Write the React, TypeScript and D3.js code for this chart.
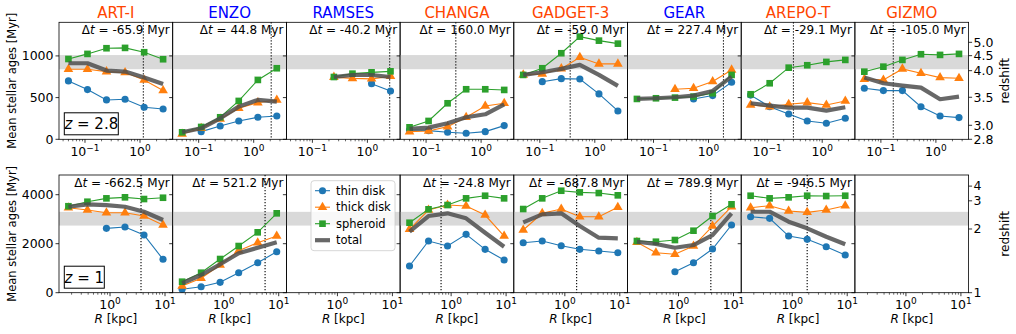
import React from 'react';
import * as d3 from 'd3';

const W = 1016;
const H = 334;

const codes = ['ART-I', 'ENZO', 'RAMSES', 'CHANGA', 'GADGET-3', 'GEAR', 'AREPO-T', 'GIZMO'];
const codeColors = ['#ff4500', '#0000ff', '#0000ff', '#ff4500', '#ff4500', '#0000ff', '#ff4500', '#ff4500'];

// radial bins [kpc]
const radiiZ28 = [0.05, 0.111, 0.246, 0.535, 1.19, 2.63];
const radiiZ1 = [0.175, 0.388, 0.86, 1.87, 4.15, 9.2];

// z = 2.8 row, mean stellar ages [Myr]
const thinZ28 = [
  [700, 596, 472, 480, 384, 364],
  [null, 92, 160, 220, 264, 280],
  [null, null, null, null, 667, 579],
  [112, 104, 84, 72, 92, 164],
  [null, 691, 727, 723, 544, 340],
  [null, null, null, 484, 524, 684],
  [530, 391, 304, 220, 192, 252],
  [612, 584, 584, 391, 280, 260],
];
const thickZ28 = [
  [840, 840, 811, 800, 712, 584],
  [64, 132, 244, 372, 440, 472],
  [null, null, 745, 730, 725, 755],
  [92, 100, 152, 264, 400, 432],
  [772, 784, 847, 984, 904, 904],
  [null, null, 600, 612, 692, 832],
  [412, 391, 420, 440, 412, 460],
  [720, 712, 844, 792, 740, 732],
];
const spheroidZ28 = [
  [963, 1024, 1092, 1096, 1044, 960],
  [84, 148, 264, 460, 712, 852],
  [null, null, 747, 787, 803, 815],
  [144, 220, 432, 600, 600, 592],
  [772, 852, 1032, 1231, 1183, 1147],
  [484, 492, 500, 512, 552, 772],
  [540, 672, 859, 888, 928, 952],
  [811, 871, 952, 1020, 1012, 1024],
];
const totalZ28 = [
  [912, 912, 824, 812, 740, 664],
  [84, 132, 252, 392, 472, 452],
  [null, null, 747, 771, 771, 747],
  [124, 140, 192, 264, 300, 420],
  [772, 804, 844, 892, 772, 640],
  [484, 492, 504, 524, 580, 752],
  [432, 404, 380, 380, 344, 384],
  [740, 672, 644, 620, 480, 512],
];
const dtZ28 = ['-65.9', '44.8', '-40.2', '160.0', '-59.0', '227.4', '-29.1', '-105.0'];
const rDotZ28 = [1.15, 2.08, 2.54, 0.347, 0.357, 1.87, 0.30, 0.168];

// z = 1 row
const thinZ1 = [
  [null, null, 2627, 2681, 2354, 1363],
  [139, 245, 424, 816, 1224, 1673],
  [],
  [1089, 2109, 1905, 2383, 1771, 1334],
  [2040, 2109, 1918, 1771, 1701, 1632],
  [null, null, 857, 1224, 1783, 2762],
  [3101, 3035, 2313, 2179, 1877, 1538],
  [],
];
const thickZ1 = [
  [3468, 3374, 3264, 3264, 3129, 2762],
  [273, 588, 1130, 1714, 2040, 2313],
  [],
  [2587, 3374, 3578, 3537, 3170, 2313],
  [2558, 3240, 3415, 3101, 3101, 3484],
  [2056, 1632, 1567, 1905, 2721, 3509],
  [3468, 3550, 3333, 3280, 3374, 3550],
  [],
];
const spheroidZ1 = [
  [3529, 3713, 3851, 3892, 3823, 3876],
  [449, 816, 1375, 1905, 2464, 3240],
  [],
  [2856, 3403, 3578, 3851, 3958, 3851],
  [3415, 3851, 4162, 4096, 4068, 3974],
  [2109, 2081, 2150, 2530, 3129, 3607],
  [3958, 3851, 3892, 3958, 3945, 3958],
  [],
];
const totalZ1 = [
  [3509, 3607, 3578, 3509, 3305, 2966],
  [384, 722, 1159, 1608, 1836, 2056],
  [],
  [2489, 3129, 3240, 3035, 2448, 1877],
  [2872, 3199, 3240, 2721, 2244, 2219],
  [2081, 1987, 1836, 1946, 2354, 3240],
  [3305, 3305, 2897, 2627, 2285, 1975],
  [],
];
const dtZ1 = ['-662.5', '521.2', null, '-24.8', '-687.8', '789.9', '-946.5', null];
const rDotZ1 = [3.66, 5.65, null, 0.656, 1.64, 3.87, 1.87, null];

// redshift axis: ages [Myr] where the redshift ticks sit
const zTicksZ28 = [0, 168, 504, 823, 1003, 1163];
const zLabelsZ28 = ['2.8', '3.0', '3.5', '4.0', '4.5', '5.0'];
const zTicksZ1 = [0, 2600, 3750, 4350];
const zLabelsZ1 = ['1', '2', '3', '4'];

const yTicksZ28 = [0, 500, 1000];
const yTicksZ1 = [0, 2000, 4000];

const components = ['thin disk', 'thick disk', 'spheroid', 'total'];
const compColors = ['#1f77b4', '#ff7f0e', '#2ca02c', '#4d4d4d'];

const rows = [
  { top: 22.3, bottom: 139.3, yMax: 1403, xDomain: [0.0337, 3.93], xMajor: [0.1, 1], xSup: ['\u22121', '0'],
    radii: radiiZ28, series: [thinZ28, thickZ28, spheroidZ28, totalZ28], dt: dtZ28, rDot: rDotZ28,
    band: [840, 1010], yTicks: yTicksZ28, zTicks: zTicksZ28, zLabels: zLabelsZ28, zText: '2.8', zBoxW: 54 },
  { top: 175, bottom: 292.7, yMax: 4804, xDomain: [0.118, 13.8], xMajor: [1, 10], xSup: ['0', '1'],
    radii: radiiZ1, series: [thinZ1, thickZ1, spheroidZ1, totalZ1], dt: dtZ1, rDot: rDotZ1,
    band: [2740, 3300], yTicks: yTicksZ1, zTicks: zTicksZ1, zLabels: zLabelsZ1, zText: '1', zBoxW: 40 },
];

const panelLeft = 59;
const panelW = 113.7;
const font = 'DejaVu Sans, sans-serif';
const totalWidth = 4.2;

const markerPath = (k) => {
  if (k === 0) return d3.symbol().type(d3.symbolCircle).size(40)();
  if (k === 1) return d3.symbol().type(d3.symbolTriangle).size(40)();
  return d3.symbol().type(d3.symbolSquare).size(44)();
};

const App = () => {
  const svgRef = React.useRef(null);

  React.useEffect(() => {
    const svg = d3.select(svgRef.current);
    svg.selectAll('*').remove();
    svg.append('rect').attr('width', W).attr('height', H).attr('fill', 'white');

    rows.forEach((row, ri) => {
      const y = d3.scaleLinear().domain([0, row.yMax]).range([row.bottom, row.top]);

      codes.forEach((code, ci) => {
        const x0 = panelLeft + ci * panelW;
        const x = d3.scaleLog().domain(row.xDomain).range([x0, x0 + panelW]);
        const g = svg.append('g');

        // shaded band
        g.append('rect')
          .attr('x', x0).attr('width', panelW)
          .attr('y', y(row.band[1])).attr('height', y(row.band[0]) - y(row.band[1]))
          .attr('fill', '#d9d9d9');

        // dotted radius line
        if (row.rDot[ci] != null) {
          g.append('line')
            .attr('x1', x(row.rDot[ci])).attr('x2', x(row.rDot[ci]))
            .attr('y1', row.top).attr('y2', row.bottom)
            .attr('stroke', 'black').attr('stroke-width', 1.1)
            .attr('stroke-dasharray', '1.2,1.8');
        }

        // series
        row.series.forEach((s, k) => {
          const vals = s[ci];
          if (!vals || !vals.length) return;
          const pts = vals.map((v, i) => ({ r: row.radii[i], v }));
          const line = d3.line()
            .defined((d) => d.v != null)
            .x((d) => x(d.r))
            .y((d) => y(d.v));
          if (k === 3) {
            g.append('path').attr('d', line(pts)).attr('fill', 'none')
              .attr('stroke', compColors[k]).attr('stroke-opacity', 0.85)
              .attr('stroke-width', totalWidth).attr('stroke-linejoin', 'round');
          } else {
            g.append('path').attr('d', line(pts)).attr('fill', 'none')
              .attr('stroke', compColors[k]).attr('stroke-width', 1.1);
            g.selectAll(null).data(pts.filter((d) => d.v != null)).enter()
              .append('path')
              .attr('d', markerPath(k))
              .attr('transform', (d) => `translate(${x(d.r)},${y(d.v)})`)
              .attr('fill', compColors[k]);
          }
        });

        // spines
        g.append('rect')
          .attr('x', x0).attr('y', row.top)
          .attr('width', panelW).attr('height', row.bottom - row.top)
          .attr('fill', 'none').attr('stroke', 'black').attr('stroke-width', 0.8);

        // y ticks
        row.yTicks.forEach((t) => {
          g.append('line').attr('x1', x0 - 3.5).attr('x2', x0)
            .attr('y1', y(t)).attr('y2', y(t)).attr('stroke', 'black').attr('stroke-width', 0.8);
          if (ci === 0) {
            g.append('text').attr('x', x0 - 5.5).attr('y', y(t)).attr('dy', '0.35em')
              .attr('text-anchor', 'end').attr('font-family', font).attr('font-size', 12.5)
              .text(t);
          }
        });

        // x ticks
        const [d0, d1] = row.xDomain;
        for (let e = Math.floor(Math.log10(d0)); e <= Math.ceil(Math.log10(d1)); e++) {
          for (let j = 1; j <= 9; j++) {
            const v = j * Math.pow(10, e);
            if (v < d0 || v > d1) continue;
            g.append('line').attr('x1', x(v)).attr('x2', x(v))
              .attr('y1', row.bottom).attr('y2', row.bottom + (j === 1 ? 3.5 : 2))
              .attr('stroke', 'black').attr('stroke-width', j === 1 ? 0.8 : 0.6);
          }
        }
        row.xMajor.forEach((v, i) => {
          const tx = g.append('text').attr('x', x(v)).attr('y', row.bottom + 16.5)
            .attr('text-anchor', 'middle').attr('font-family', font).attr('font-size', 12.5);
          tx.append('tspan').text('10');
          tx.append('tspan').attr('dy', -5).attr('font-size', 9).text(row.xSup[i]);
        });

        // Δt label
        if (row.dt[ci] != null) {
          const t = g.append('text').attr('x', x0 + panelW - 3).attr('y', row.top + 11.5)
            .attr('text-anchor', 'end').attr('font-family', font).attr('font-size', 12);
          t.append('tspan').text('\u0394');
          t.append('tspan').attr('font-style', 'italic').text('t');
          t.append('tspan').text(` = ${row.dt[ci]} Myr`);
        }

        if (ri === 0) {
          g.append('text').attr('x', x0 + panelW / 2).attr('y', 17.5)
            .attr('text-anchor', 'middle').attr('font-family', font).attr('font-size', 15)
            .attr('fill', codeColors[ci]).text(code);
        } else {
          const t = g.append('text').attr('x', x0 + panelW / 2).attr('y', 323)
            .attr('text-anchor', 'middle').attr('font-family', font).attr('font-size', 12);
          t.append('tspan').attr('font-style', 'italic').text('R');
          t.append('tspan').text(' [kpc]');
        }
      });

      // redshift axis on the right
      const xr = panelLeft + codes.length * panelW;
      row.zTicks.forEach((t, i) => {
        svg.append('line').attr('x1', xr).attr('x2', xr + 3.5).attr('y1', y(t)).attr('y2', y(t))
          .attr('stroke', 'black').attr('stroke-width', 0.8);
        svg.append('text').attr('x', xr + 5).attr('y', y(t)).attr('dy', '0.35em')
          .attr('font-family', font).attr('font-size', 12.5).text(row.zLabels[i]);
      });
      const midY = (row.top + row.bottom) / 2;
      svg.append('text').attr('transform', `translate(1009,${midY}) rotate(-90)`)
        .attr('text-anchor', 'middle').attr('font-family', font).attr('font-size', 12)
        .text('redshift');
      svg.append('text').attr('transform', `translate(16,${midY}) rotate(-90)`)
        .attr('text-anchor', 'middle').attr('font-family', font).attr('font-size', 11.5)
        .text('Mean stellar ages [Myr]');

      // redshift box
      const bx = 64.3;
      const by = row.bottom - 26.5;
      svg.append('rect').attr('x', bx).attr('y', by).attr('width', row.zBoxW).attr('height', 22)
        .attr('fill', 'white').attr('stroke', 'black').attr('stroke-width', 1);
      const zt = svg.append('text').attr('x', bx + row.zBoxW / 2).attr('y', by + 16.5)
        .attr('text-anchor', 'middle').attr('font-family', font).attr('font-size', 15);
      zt.append('tspan').attr('font-style', 'italic').text('z');
      zt.append('tspan').text(` = ${row.zText}`);
    });

    // legend
    const lg = svg.append('g').attr('transform', 'translate(311,180.7)');
    lg.append('rect').attr('width', 84).attr('height', 70).attr('rx', 3)
      .attr('fill', 'white').attr('fill-opacity', 0.8).attr('stroke', '#cccccc').attr('stroke-width', 0.8);
    components.forEach((c, k) => {
      const ly = 10 + k * 16.5;
      lg.append('line').attr('x1', 4).attr('x2', 19).attr('y1', ly).attr('y2', ly)
        .attr('stroke', compColors[k]).attr('stroke-width', k === 3 ? totalWidth : 1.1)
        .attr('stroke-opacity', k === 3 ? 0.85 : 1);
      if (k < 3) {
        lg.append('path').attr('d', markerPath(k)).attr('transform', `translate(11.5,${ly})`)
          .attr('fill', compColors[k]);
      }
      lg.append('text').attr('x', 25).attr('y', ly).attr('dy', '0.35em')
        .attr('font-family', font).attr('font-size', 11.5).text(c);
    });
  }, []);

  return (
    <svg ref={svgRef} width={W} height={H}
      style={{ position: 'absolute', left: 0, top: 0, display: 'block' }} />
  );
};

export default App;
